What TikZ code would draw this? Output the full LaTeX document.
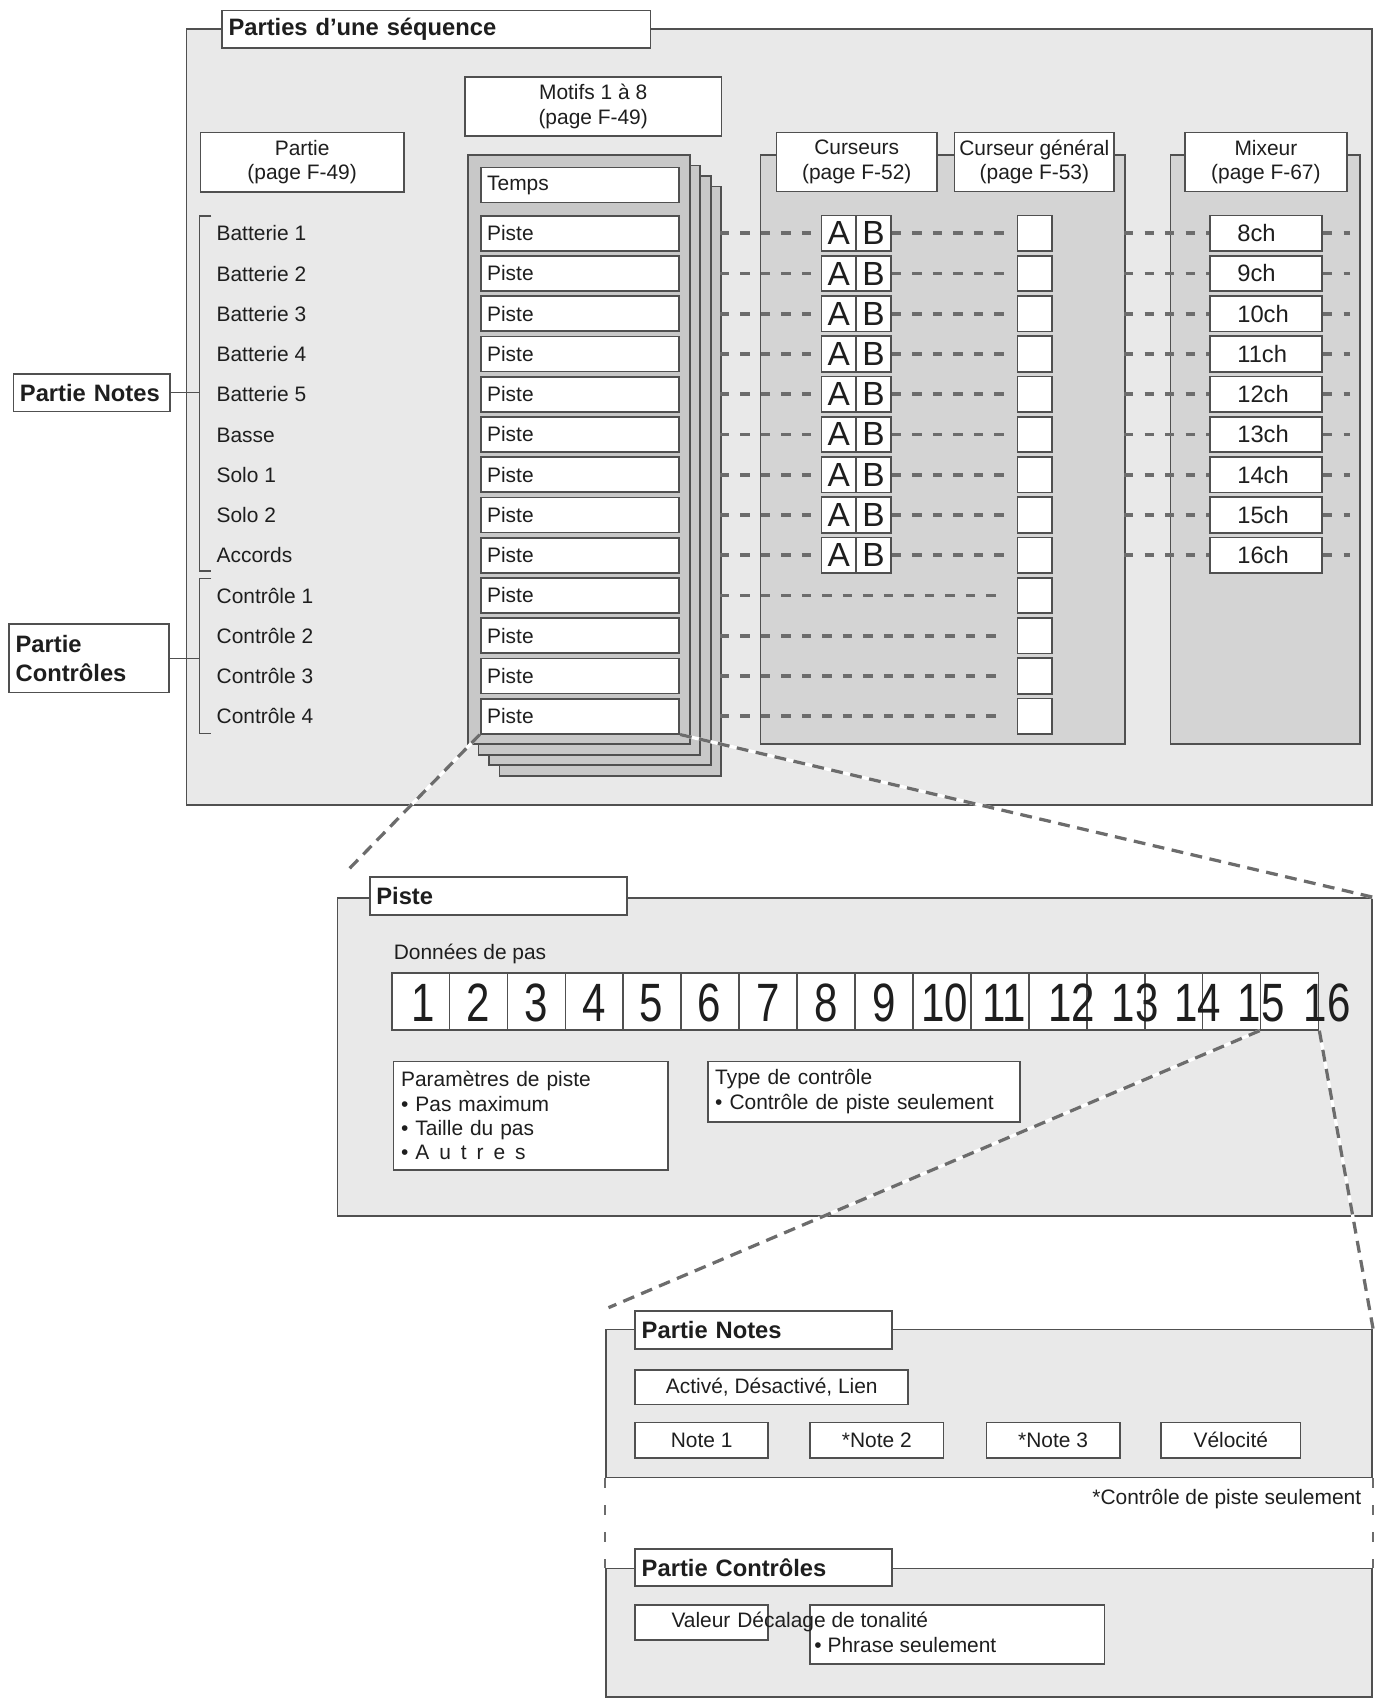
\documentclass[tikz,border=0pt]{standalone}
\usepackage{fontspec}
\setmainfont{Liberation Sans}
\newfontfamily\stepfont[FakeStretch=0.78]{Liberation Sans}

\definecolor{edgegray}{HTML}{505050}
\definecolor{panelgray}{HTML}{E9E9E9}
\definecolor{slotgray}{HTML}{D4D4D4}
\definecolor{sheetgray}{HTML}{C8C8C8}
\definecolor{dashgray}{HTML}{6C6C6C}
\definecolor{inkgray}{HTML}{1E1E1E}

\tikzset{
  panel/.style={draw=edgegray, fill=panelgray, line width=0.8pt, inner sep=0pt, anchor=north west},
  slotpanel/.style={panel, fill=slotgray},
  sheetbox/.style={panel, fill=sheetgray},
  box/.style={draw=edgegray, fill=white, line width=0.8pt, inner sep=0pt, text=inkgray,
    font=\fontsize{9.7}{11.3}\selectfont},
  headbox/.style={box, anchor=north west, align=center},
  leftbox/.style={box, inner xsep=3pt, align=left},
  titlebox/.style={leftbox, anchor=north west, font=\bfseries\fontsize{11}{13.5}\selectfont},
  txt/.style={inner sep=0pt, text=inkgray, font=\fontsize{9.7}{11.3}\selectfont,
    text height=7pt, text depth=0pt},
  stepnum/.style={inner sep=0pt, text=inkgray, font=\stepfont\fontsize{25}{25}\selectfont,
    text height=17.9pt, text depth=0pt},
  link/.style={draw=dashgray, line width=1.8pt, dash pattern=on 4.2pt off 5.3pt},
  zoomline/.style={draw=dashgray, line width=1.5pt, dash pattern=on 5.5pt off 3.5pt,
    preaction={draw=white, solid, line width=1.5pt}},
  gapline/.style={draw=dashgray, line width=1pt, dash pattern=on 4.5pt off 8pt},
}

\begin{document}
\begin{tikzpicture}[x=0.5pt, y=-0.5pt]
    \useasboundingbox (0,0) rectangle (1280,1573.8);

    % parts of a sequence
    \node[panel, minimum width=549.5pt, minimum height=359.35pt] (seqpanel) at (172,26.3) {};
    \node[titlebox, text width=192.5pt, minimum height=17.5pt] (seqtitle) at (205,9) {Parties d’une séquence};
    \node[headbox, minimum width=94.25pt, minimum height=27.5pt] (parthead) at (185,122) {Partie\\(page F-49)};
    \node[headbox, minimum width=119pt, minimum height=27.3pt] (motifhead) at (430,70.4) {Motifs 1 à 8\\(page F-49)};

    \foreach \k in {3,2,1,0}
        \node[sheetbox, minimum width=102.75pt, minimum height=273pt] (sheet\k) at (433+9.7*\k,143+9.7*\k) {};
    \node[leftbox, anchor=north west, text width=86pt, minimum height=16.25pt] (temps) at (444.7,154.5) {Temps};

    \node[slotpanel, minimum width=169pt, minimum height=273pt] (curpanel) at (704,143) {};
    \node[slotpanel, minimum width=88pt, minimum height=273pt] (mixpanel) at (1084,143) {};
    \node[headbox, minimum width=74.25pt, minimum height=27.35pt] (curhead) at (719,122) {Curseurs\\(page F-52)};
    \node[headbox, minimum width=74.1pt, minimum height=27.35pt] (genhead) at (883.8,122) {Curseur général\\(page F-53)};
    \node[headbox, minimum width=75pt, minimum height=27.35pt] (mixhead) at (1097.5,122) {Mixeur\\(page F-67)};

    % tracks
    \foreach \lab [count=\i from 0] in {Batterie 1,Batterie 2,Batterie 3,Batterie 4,Batterie 5,Basse,Solo 1,Solo 2,Accords,Contrôle 1,Contrôle 2,Contrôle 3,Contrôle 4} {
        \pgfmathsetmacro\y{216.2+37.3*\i}
        \node[txt, anchor=west] (part\i) at (200.4,\y) {\lab};
        \node[leftbox, anchor=west, text width=86pt, minimum height=16.2pt] (piste\i) at (444.7,\y) {Piste};
        \coordinate (edge\i) at (667.3,\y);
        \coordinate (curout\i) at (1042,\y);
        \node[box, minimum width=16pt, minimum height=16.5pt] (gen\i) at (959,\y) {};
    }

    \foreach \ch [count=\i from 0] in {8,...,16} {
        \pgfmathsetmacro\y{216.2+37.3*\i}
        \node[box, minimum width=16.2pt, minimum height=16.5pt, font=\fontsize{15.5}{16}\selectfont] (a\i) at (777.5,\y) {A};
        \node[box, minimum width=16.2pt, minimum height=16.5pt, font=\fontsize{15.5}{16}\selectfont] (b\i) at (809.7,\y) {B};
        \node[leftbox, anchor=west, inner xsep=12.5pt, text width=26.9pt, minimum height=16.5pt, font=\fontsize{11}{12}\selectfont] (mix\i) at (1121,\y) {\ch ch};
        \coordinate (mixout\i) at (1251,\y);
        \draw[link] (edge\i) -- (a\i);
        \draw[link, shorten >=5pt] (b\i) -- (gen\i);
        \draw[link] (curout\i) -- (mix\i);
        \draw[link] (mix\i) -- (mixout\i);
    }
    \foreach \i in {9,...,12}
        \draw[link, shorten >=5pt] (edge\i) -- (gen\i);

    % note and control parts
    \coordinate (nbrace) at (184.7,364);
    \coordinate (cbrace) at (184.7,606);
    \draw[edgegray, line width=0.7pt] (196,200) -- (184.7,200) -- (184.7,529) -- (196,529);
    \draw[edgegray, line width=0.7pt] (196,536) -- (184.7,536) -- (184.7,680) -- (196,680);
    \node[titlebox, text width=66.65pt, minimum height=17.45pt] (notesbox) at (11.7,345.7) {Partie Notes};
    \node[titlebox, text width=68pt, minimum height=31.7pt] (ctrlbox) at (7.7,577.6) {Partie\\Contrôles};
    \draw[edgegray, line width=0.7pt] (notesbox.east) -- (notesbox.east -| nbrace);
    \draw[edgegray, line width=0.7pt] (ctrlbox.east) -- (ctrlbox.east -| cbrace);

    % one track
    \node[panel, minimum width=479.5pt, minimum height=147.2pt] (pistepanel) at (312,831.6) {};
    \coordinate (pistecorner) at (320,809);
    \draw[zoomline] (piste12.south west) -- (pistecorner);
    \draw[zoomline] (piste12.south east) -- (pistepanel.north east);
    \node[titlebox, text width=113pt, minimum height=17.5pt] (pistetitle) at (342,812) {Piste};
    \node[txt, anchor=west] (donnees) at (364.6,882) {Données de pas};

    \foreach \k in {1,...,16}
        \node[box, minimum width=26.85pt, minimum height=26.5pt] (step\k) at (363+53.69*\k-26.845,928) {};
    \foreach \n/\x in {1/392.6,2/443.6,3/496.8,4/551,5/604,6/657.7,7/711.8,8/765.6,9/819.3,10/875.5,11/930.9,12/993.4,13/1052,14/1110,15/1169,16/1230}
        \node[stepnum] (num\n) at (\x,929) {\n};

    \node[leftbox, anchor=north west, inner xsep=3.5pt, text width=120pt, minimum height=50.35pt] (params) at (364,983)
        {Paramètres de piste\\• Pas maximum\\• Taille du pas\\• A\hspace{4.6pt}u\hspace{4.6pt}t\hspace{4.6pt}r\hspace{4.6pt}e\hspace{4.6pt}s};
    \node[leftbox, anchor=north west, inner xsep=3.2pt, text width=138pt, minimum height=28pt] (ctltype) at (655.7,983)
        {Type de contrôle\\• Contrôle de piste seulement};

    % one step
    \node[panel, minimum width=355pt, minimum height=68.6pt] (notespanel) at (561,1231.4) {};
    \coordinate (notescorner) at (564,1212);
    \draw[zoomline] (step16.south west) -- (notescorner);
    \draw[zoomline] (step16.south east) -- (notespanel.north east);
    \node[titlebox, text width=113pt, minimum height=17.8pt] (notestitle) at (588,1214) {Partie Notes};
    \node[headbox, minimum width=126.5pt, minimum height=16.15pt] (onoff) at (588,1268.7) {Activé, Désactivé, Lien};
    \node[headbox, minimum width=61.5pt, minimum height=16.5pt] (note1) at (588,1317.6) {Note 1};
    \node[headbox, minimum width=61.9pt, minimum height=16.5pt] (note2) at (750,1317.6) {*Note 2};
    \node[headbox, minimum width=61.75pt, minimum height=16.5pt] (note3) at (913.5,1317.6) {*Note 3};
    \node[headbox, minimum width=64.5pt, minimum height=16.5pt] (velo) at (1075.5,1317.6) {Vélocité};
    \node[txt, anchor=east] (footnote) at (1262,1387) {*Contrôle de piste seulement};

    \node[panel, minimum width=355pt, minimum height=59.5pt] (ctrlpanel) at (561,1453) {};
    \draw[gapline] (notespanel.south west) -- (ctrlpanel.north west);
    \draw[gapline] (notespanel.south east) -- (ctrlpanel.north east);
    \node[titlebox, text width=113pt, minimum height=17.1pt] (ctrltitle) at (588,1434.8) {Partie Contrôles};
    \node[box, anchor=north west, minimum width=61.5pt, minimum height=16.25pt] (valbox) at (588,1486.5) {};
    \node[box, anchor=north west, minimum width=136.5pt, minimum height=27.5pt] (decalbox) at (750,1486.5) {};
    \node[txt, anchor=west] (valtext) at (622,1501.5) {Valeur};
    \node[txt, anchor=west] (decaltext) at (683,1501.5) {Décalage de tonalité};
    \node[txt, anchor=west] (phrasetext) at (754.5,1524.6) {• Phrase seulement};
\end{tikzpicture}
\end{document}
